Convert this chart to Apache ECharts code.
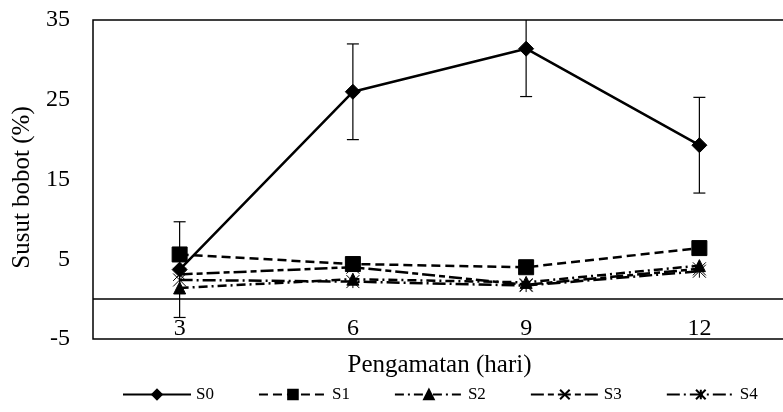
<!DOCTYPE html>
<html>
<head>
<meta charset="utf-8">
<script src="https://cdn.jsdelivr.net/npm/echarts@6/dist/echarts.min.js"></script>
<style>
html,body{margin:0;padding:0;background:#fff;}
#chart{width:783px;height:412px;}
</style>
</head>
<body>
<div id="chart"></div>
<script>
// pengamatan (hari)
var days = ['3', '6', '9', '12'];
var yTicks = [-5, 5, 15, 25, 35];

// susut bobot (%)
var s0 = [3.7, 26.0, 31.4, 19.3];
var s0Err = [6.0, 6.0, 6.0, 6.0];
var s1 = [5.6, 4.4, 4.0, 6.4];
var s2 = [1.4, 2.5, 2.1, 4.2];
var s3 = [3.1, 4.0, 1.8, 3.8];
var s4 = [2.4, 2.2, 1.7, 3.5];

var errData = [];
for (var i = 0; i < days.length; i++) {
    errData.push([i, s0[i] - s0Err[i], s0[i] + s0Err[i]]);
}

var font = '"Liberation Serif", "Times New Roman", serif';
var xMark = 'path://M0,0L10,10M10,0L0,10';
var starMark = 'path://M0,0L10,10M10,0L0,10M5,0L5,10';

function lineSeries(name, data, symbol, size, dash) {
    return {
        name: name,
        type: 'line',
        data: data,
        symbol: symbol,
        symbolSize: size,
        showSymbol: true,
        lineStyle: {color: '#000', width: 2.5, type: dash},
        itemStyle: {color: '#000', borderColor: '#000', borderWidth: 1},
        z: 3
    };
}

var s0Series = lineSeries('S0', s0, 'diamond', 15, 'solid');
// horizontal line at zero
s0Series.markLine = {
    silent: true,
    symbol: 'none',
    label: {show: false},
    lineStyle: {color: '#000', width: 1.5, type: 'solid'},
    data: [{yAxis: 0}]
};

var chart = echarts.init(document.getElementById('chart'));
var option = {
    animation: false,
    textStyle: {fontFamily: font},
    grid: {
        left: 93, right: -3, top: 20, bottom: 73,
        show: true, borderColor: '#000', borderWidth: 1.5,
        containLabel: false,
        outerBoundsMode: 'none'
    },
    legend: {
        left: 117, top: 381,
        itemWidth: 68, itemHeight: 12, itemGap: 44,
        textStyle: {fontFamily: font, fontSize: 17, color: '#000'},
        data: ['S0', 'S1', 'S2', 'S3', 'S4']
    },
    xAxis: {
        type: 'category',
        data: days,
        boundaryGap: true,
        name: 'Pengamatan (hari)',
        nameLocation: 'middle',
        nameGap: 14,
        nameTextStyle: {fontFamily: font, fontSize: 25, color: '#000'},
        axisLine: {onZero: false, show: false},
        axisTick: {show: false},
        axisLabel: {fontFamily: font, fontSize: 24, color: '#000', margin: -22}
    },
    yAxis: {
        type: 'value',
        min: -5, max: 35,
        name: 'Susut bobot (%)',
        nameLocation: 'middle',
        nameGap: 58,
        nameTextStyle: {fontFamily: font, fontSize: 25, color: '#000', padding: [0, 16, 0, 0]},
        axisLine: {show: false},
        axisTick: {show: false},
        splitLine: {show: false},
        axisLabel: {customValues: yTicks, fontFamily: font, fontSize: 24, color: '#000', margin: 23}
    },
    series: [
        {
            type: 'custom',
            name: 'err',
            clip: true,
            data: errData,
            z: 2,
            renderItem: function (params, api) {
                var lo = api.coord([api.value(0), api.value(1)]);
                var hi = api.coord([api.value(0), api.value(2)]);
                var w = 6;
                var st = {stroke: '#000', lineWidth: 1.2};
                return {
                    type: 'group',
                    children: [
                        {type: 'line', shape: {x1: hi[0], y1: hi[1], x2: lo[0], y2: lo[1]}, style: st},
                        {type: 'line', shape: {x1: hi[0] - w, y1: hi[1], x2: hi[0] + w, y2: hi[1]}, style: st},
                        {type: 'line', shape: {x1: lo[0] - w, y1: lo[1], x2: lo[0] + w, y2: lo[1]}, style: st}
                    ]
                };
            }
        },
        s0Series,
        lineSeries('S1', s1, 'rect', 15, [9, 5]),
        lineSeries('S2', s2, 'triangle', 12, [9, 4, 2, 4]),
        lineSeries('S3', s3, xMark, 13, [13, 4, 6, 4]),
        lineSeries('S4', s4, starMark, 13, [13, 4, 2, 4])
    ]
};
chart.setOption(option);
</script>
</body>
</html>
